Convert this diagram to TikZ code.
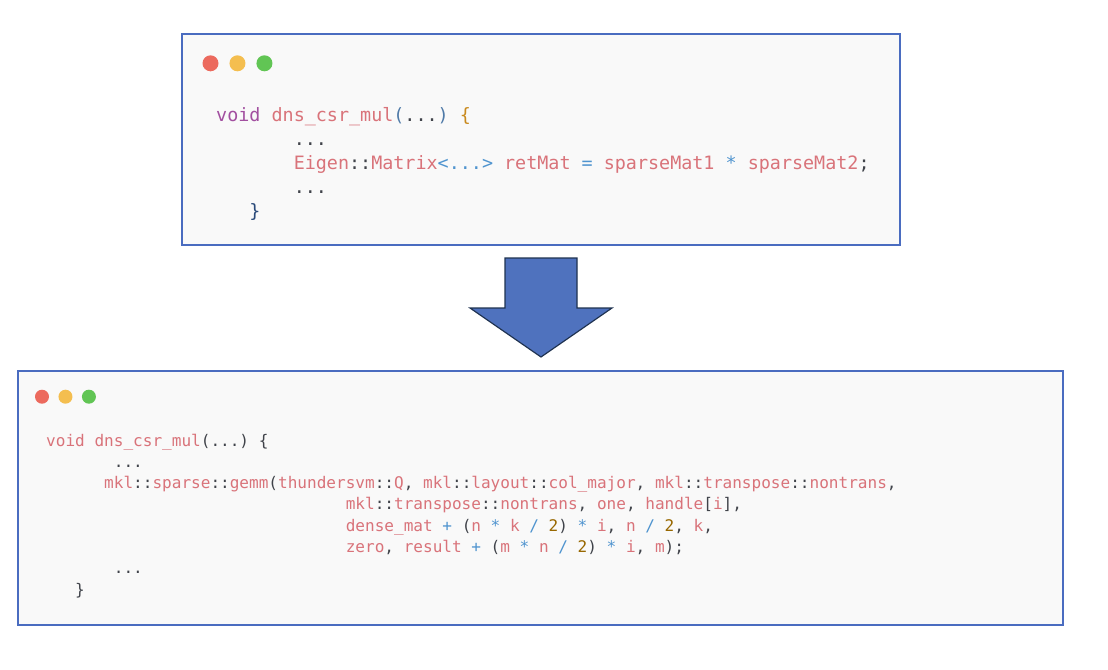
\documentclass[tikz,border=0pt]{standalone}
\usepackage{fontspec}
\setmonofont{DejaVu Sans Mono}
\usepackage{tikz}
\usetikzlibrary{positioning}
\definecolor{WinBorder}{HTML}{4A6CC0}
\definecolor{WinPanel}{HTML}{F9F9F9}
\definecolor{DotRed}{HTML}{EC6A5E}
\definecolor{DotYellow}{HTML}{F4BE4F}
\definecolor{DotGreen}{HTML}{61C554}
\definecolor{CodeText}{HTML}{40434A}
\definecolor{CodeId}{HTML}{D9737A}
\definecolor{CodeKw}{HTML}{A24FA0}
\definecolor{CodeOp}{HTML}{4F94CF}
\definecolor{CodeNum}{HTML}{986801}
\definecolor{CodeParen}{HTML}{4F7AA8}
\definecolor{CodeBrace}{HTML}{C98A1E}
\definecolor{CodeNavy}{HTML}{2A4A7A}
\definecolor{ArrowFill}{HTML}{4F72BE}
\definecolor{ArrowEdge}{HTML}{1F3250}

\newcommand{\cid}[1]{\textcolor{CodeId}{#1}}
\newcommand{\cop}[1]{\textcolor{CodeOp}{#1}}
\newcommand{\cnum}[1]{\textcolor{CodeNum}{#1}}
\newcommand{\ckw}[1]{\textcolor{CodeKw}{#1}}
\newcommand{\ind}[1]{\hspace*{#1\fontcharwd\font`x}}

\begin{document}
\frenchspacing
\begin{tikzpicture}[
    x=0.03cm, y=-0.03cm,
    window/.style={
      draw=WinBorder,
      fill=WinPanel,
      line width=1.5pt,
      inner sep=0pt
    },
    bigdot/.style={circle, inner sep=0pt, minimum size=0.48cm},
    smalldot/.style={circle, inner sep=0pt, minimum size=0.42cm},
    bigcode/.style={
      anchor=base west,
      inner sep=0pt,
      text=CodeText,
      font=\ttfamily\fontsize{15.7}{20.5}\selectfont
    },
    smallcode/.style={
      anchor=base west,
      inner sep=0pt,
      text=CodeText,
      font=\ttfamily\fontsize{13.7}{18.2}\selectfont
    },
    blockarrow/.style={fill=ArrowFill, draw=ArrowEdge, line width=1pt, line join=miter}
  ]
  \useasboundingbox (0,0) rectangle (1108,670);

  % source window
  \node[window, minimum width=21.54cm, minimum height=6.33cm] (srcwin) at (541,139.5) {};
  \node[bigdot, fill=DotRed] (tr) at (210.5,63.3) {};
  \node[bigdot, fill=DotYellow, right=0.315cm of tr] (ty) {};
  \node[bigdot, fill=DotGreen, right=0.315cm of ty] (tg) {};

  \node[bigcode] (s1) at (216,121) {\ckw{void} \cid{dns\_csr\_mul}\textcolor{CodeParen}{(}...\textcolor{CodeParen}{)} \textcolor{CodeBrace}{\{}};
  \node[bigcode] (s2) at (216,145) {\ind{7}...};
  \node[bigcode] (s3) at (216,169) {\ind{7}\cid{Eigen}::\cid{Matrix}\cop{<...>} \cid{retMat} \cop{=} \cid{sparseMat1} \cop{*} \cid{sparseMat2};};
  \node[bigcode] (s4) at (216,193) {\ind{7}...};
  \node[bigcode] (s5) at (216,217) {\ind{3}\textcolor{CodeNavy}{\}}};

  % block arrow
  \path[blockarrow] (505,258) -- (577,258) -- (577,308) -- (612,308)
    -- (541,357) -- (470,308) -- (505,308) -- cycle;

  % generated window
  \node[window, minimum width=31.35cm, minimum height=7.62cm] (dstwin) at (540.5,498) {};
  \node[smalldot, fill=DotRed] (br) at (42,396.7) {};
  \node[smalldot, fill=DotYellow, right=0.27cm of br] (by) {};
  \node[smalldot, fill=DotGreen, right=0.27cm of by] (bg) {};

  \node[smallcode] (d1) at (46,446) {\cid{void dns\_csr\_mul}(...) \{};
  \node[smallcode] (d2) at (46,467.3) {\ind{7}...};
  \node[smallcode] (d3) at (46,488.6) {\ind{6}\cid{mkl}::\cid{sparse}::\cid{gemm}(\cid{thundersvm}::\cid{Q}, \cid{mkl}::\cid{layout}::\cid{col\_major}, \cid{mkl}::\cid{transpose}::\cid{nontrans},};
  \node[smallcode] (d4) at (46,509.9) {\ind{31}\cid{mkl}::\cid{transpose}::\cid{nontrans}, \cid{one}, \cid{handle}[\cid{i}],};
  \node[smallcode] (d5) at (46,531.2) {\ind{31}\cid{dense\_mat} \cop{+} (\cid{n} \cop{*} \cid{k} \cop{/} \cnum{2}) \cop{*} \cid{i}, \cid{n} \cop{/} \cnum{2}, \cid{k},};
  \node[smallcode] (d6) at (46,552.5) {\ind{31}\cid{zero}, \cid{result} \cop{+} (\cid{m} \cop{*} \cid{n} \cop{/} \cnum{2}) \cop{*} \cid{i}, \cid{m});};
  \node[smallcode] (d7) at (46,573.8) {\ind{7}...};
  \node[smallcode] (d8) at (46,595.1) {\ind{3}\}};
\end{tikzpicture}
\end{document}
